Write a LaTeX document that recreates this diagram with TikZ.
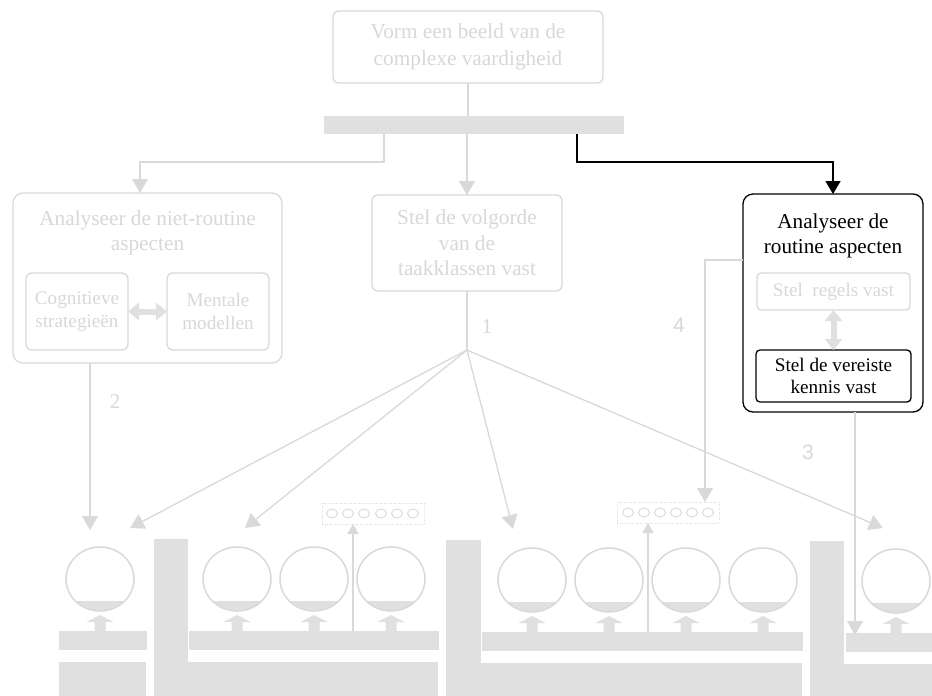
\documentclass[tikz,border=0pt]{standalone}
\usepackage{fontspec}
\setmainfont{Liberation Serif}
\newfontfamily\numsans{Liberation Sans}
\usetikzlibrary{arrows.meta}
\definecolor{paleline}{RGB}{217,217,217}
\definecolor{palefill}{RGB}{224,224,224}
\definecolor{paletext}{RGB}{216,216,216}
\begin{document}
\begin{tikzpicture}[x=1pt,y=-1pt,
  every node/.style={inner sep=0pt, outer sep=0pt},
  bigfont/.style={font=\fontsize{21.3}{25.5}\selectfont},
  smallfont/.style={font=\fontsize{19.2}{22.5}\selectfont},
  gbox/.style={draw=paleline, line width=1.3pt, rounded corners=6pt, text=paletext, align=center},
  bbox/.style={draw=black, line width=1.3pt, rounded corners=5pt, text=black, align=center},
  gtext/.style={text=paletext, align=center},
  hubbar/.style={fill=palefill},
  dotbox/.style={draw=paleline, line width=1pt, dash pattern=on 1pt off 1.5pt},
  garrow/.style={draw=paleline, line width=1.3pt, -{Triangle[length=14pt,width=16pt]}},
  gline/.style={draw=paleline, line width=1.3pt},
  barrow/.style={draw=black, line width=1.5pt, -{Triangle[length=13pt,width=15pt]}},
  liftarrow/.style={draw=paleline, line width=2pt, -{Triangle[length=10pt,width=11pt]}},
  twoway/.style={draw=palefill, line width=6pt,
    {Triangle[length=11pt,width=17pt]}-{Triangle[length=11pt,width=17pt]}},
  numlabel/.style={text=paletext, font=\fontsize{21}{21}\selectfont}
]
\useasboundingbox (0,0) rectangle (932,696);
\fill[white] (0,0) rectangle (932,696);

% ---------- top of the scheme ----------
\node[gbox, font=\fontsize{21.3}{26.5}\selectfont, minimum width=270pt, minimum height=72pt] (top) at (468,47)
  {Vorm een beeld van de\\complexe vaardigheid};
\node[hubbar, minimum width=300pt, minimum height=18pt] (hub) at (474,125) {};
\draw[gline] (top.south) -- (top.south |- hub.north);

% ---------- non-routine aspects ----------
\node[gbox, rounded corners=10pt, minimum width=269pt, minimum height=170pt] (nonroutine) at (147.5,278) {};
\node[gtext, bigfont] (nonroutineT) at (147.5,233) {Analyseer de niet-routine\\aspecten};
\node[gbox, smallfont, minimum width=102pt, minimum height=77pt] (cog) at (77,311.5)
  {Cognitieve\\strategieën};
\node[gbox, smallfont, minimum width=102pt, minimum height=77pt] (ment) at (218,311.5)
  {Mentale\\modellen};
\draw[twoway] (cog.east) -- (ment.west);

% ---------- sequencing ----------
\node[gbox, bigfont, minimum width=190pt, minimum height=96pt] (seq) at (467,243)
  {Stel de volgorde\\van de\\taakklassen vast};

% ---------- routine aspects ----------
\node[bbox, rounded corners=10pt, minimum width=180pt, minimum height=218pt] (routine) at (833,303) {};
\node[text=black, align=center, font=\fontsize{21.2}{25}\selectfont] (routineT) at (833,236)
  {Analyseer de\\routine aspecten};
\node[gbox, smallfont, rounded corners=4pt, minimum width=153pt, minimum height=37pt] (rules) at (833.5,291.5)
  {Stel~~regels vast};
\node[bbox, smallfont, rounded corners=4pt, minimum width=155pt, minimum height=52pt] (know) at (833.5,376)
  {Stel de vereiste\\kennis vast};
\draw[twoway] (rules.south) -- (know.north);

% ---------- branches from the hub ----------
\coordinate (hubL) at (384,134);
\coordinate (hubR) at (577,134);
\coordinate (nrIn) at (140,193);
\draw[garrow] (hubL) -- ++(0,28) -| (nrIn);
\draw[garrow] (hub.south -| seq.north) -- (seq.north);
\draw[barrow] (hubR) -- ++(0,28) -| (routine.north);

% ---------- bottom: task classes ----------
% bars and L-shaped frames
\fill[palefill] (59,631) rectangle (147,650);
\fill[palefill] (59,662) rectangle (146,696);
\fill[palefill] (154,539) rectangle (188,696);
\fill[palefill] (154,662) rectangle (438,696);
\fill[palefill] (189,631) rectangle (439,650);
\fill[palefill] (446,540) rectangle (481,696);
\fill[palefill] (446,663) rectangle (802,696);
\fill[palefill] (482,632) rectangle (803,651);
\fill[palefill] (810,541) rectangle (844,696);
\fill[palefill] (810,664) rectangle (932,696);
\fill[palefill] (846,633) rectangle (932,652);

% task bulbs with their support arrows
\foreach \cx/\cy/\by in {100/579/631, 237/579/631, 314/579/631, 391/579/631,
                         532/580/632, 609/580/632, 686/580/632, 763/580/632,
                         896/581/633} {
  \begin{scope}
    \clip (\cx,\cy) ellipse [x radius=34, y radius=32];
    \fill[palefill] (\cx-40,\cy+22) rectangle (\cx+40,\cy+40);
  \end{scope}
  \draw[paleline, line width=1.5pt] (\cx,\cy) ellipse [x radius=34, y radius=32];
  \fill[palefill] (\cx-5.5,\by) -- (\cx-5.5,\by-9) -- (\cx-13.5,\by-9) -- (\cx,\by-16)
    -- (\cx+13.5,\by-9) -- (\cx+5.5,\by-9) -- (\cx+5.5,\by) -- cycle;
}

% part-task practice banks
\node[dotbox, minimum width=102pt, minimum height=21pt] (bankA) at (373,513.5) {};
\foreach \ex in {332,348,364,381,397,413}
  \draw[paleline, line width=0.9pt] (\ex,513.5) ellipse [x radius=5.5, y radius=4.5];
\node[dotbox, minimum width=102pt, minimum height=21pt] (bankB) at (668,512.5) {};
\foreach \ex in {628,644,660,676,692,708}
  \draw[paleline, line width=0.9pt] (\ex,512.5) ellipse [x radius=5.5, y radius=4.5];
\coordinate (liftA) at (353,631);
\coordinate (liftB) at (648,632);
\draw[liftarrow] (liftA) -- (liftA |- bankA.south);
\draw[liftarrow] (liftB) -- (liftB |- bankB.south);

% ---------- link 1: sequence fans out over the task classes ----------
\coordinate (fan) at (467,350);
\coordinate (tc1) at (130,528);
\coordinate (tc2) at (245,528);
\coordinate (tc3) at (513,529);
\coordinate (tc4) at (883,528);
\draw[gline] (seq.south) -- (fan);
\foreach \t in {tc1,tc2,tc3,tc4}
  \draw[garrow] (fan) -- (\t);
\node[numlabel] (lab1) at (487,327) {1};

% ---------- link 2 ----------
\coordinate (nrOut) at (90,363);
\coordinate (nrTip) at (90,530);
\draw[garrow] (nrOut) -- (nrTip);
\node[numlabel] (lab2) at (115,402) {2};

% ---------- link 3 ----------
\coordinate (knOut) at (855,412);
\coordinate (knTip) at (855,635);
\draw[garrow] (knOut) -- (knTip);
\node[numlabel, font=\numsans\fontsize{21}{21}\selectfont] (lab3) at (808,452) {3};

% ---------- link 4 ----------
\coordinate (rtOut) at (743,260);
\coordinate (rtTip) at (705,502);
\draw[garrow] (rtOut) -| (rtTip);
\node[numlabel, font=\numsans\fontsize{21}{21}\selectfont] (lab4) at (679,325) {4};
\end{tikzpicture}
\end{document}
